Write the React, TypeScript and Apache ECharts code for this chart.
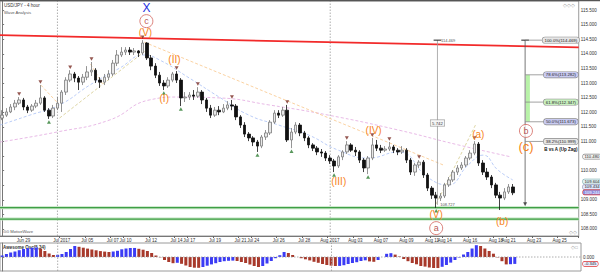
import React, { useEffect, useRef } from "react";
import * as echarts from "echarts";

const FONT = "Liberation Sans, Arial, sans-serif";

const tradingDays = ["Jun 26","Jun 27","Jun 28","Jun 29","Jun 30","Jul 03","Jul 04","Jul 05","Jul 06","Jul 07","Jul 10","Jul 11","Jul 12","Jul 13","Jul 14","Jul 17","Jul 18","Jul 19","Jul 20","Jul 21","Jul 24","Jul 25","Jul 26","Jul 27","Jul 28","Jul 31","Aug 01","Aug 02","Aug 03","Aug 04","Aug 07","Aug 08","Aug 09","Aug 10","Aug 11","Aug 14","Aug 15","Aug 16","Aug 17","Aug 18","Aug 21","Aug 22","Aug 23","Aug 24","Aug 25","Aug 28"];
const sessions = ["00:00", "08:00", "16:00"];

const tickDays = ["Jun 28","Jul 03","Jul 05","Jul 07","Jul 10","Jul 12","Jul 14","Jul 17","Jul 19","Jul 21","Jul 24","Jul 26","Jul 28","Aug 01","Aug 03","Aug 07","Aug 09","Aug 11","Aug 14","Aug 16","Aug 18","Aug 21","Aug 23","Aug 25"];
const tickTexts = ["Jun 29","Jul 2017","Jul 05","Jul 07","Jul 10","Jul 12","Jul 14","Jul 17","Jul 19","Jul 21","Jul 24","Jul 26","Jul 28","Aug 2017","Aug 03","Aug 07","Aug 09","Aug 11","Aug 14","Aug 16","Aug 18","Aug 21","Aug 23","Aug 25"];

// [open, close, low, high]
const candles = [
  [111.80,111.90,111.73,112.07],[111.90,112.01,111.84,112.14],[112.01,112.18,111.97,112.28],[112.18,112.31,112.07,112.42],
  [112.31,112.42,112.25,112.52],[112.42,112.18,112.07,112.49],[112.18,112.07,111.97,112.25],[112.07,112.21,112.01,112.28],
  [112.21,112.31,112.14,112.42],[112.31,112.49,112.25,112.93],[112.49,112.07,112.01,112.55],[112.07,111.87,111.77,112.14],
  [111.87,112.14,111.80,112.25],[112.14,112.31,112.07,112.52],[112.31,112.69,112.01,112.76],[112.69,113.10,112.59,113.20],
  [113.10,113.31,113.03,113.44],[113.31,113.17,113.03,113.38],[113.17,113.03,112.76,113.24],[113.03,113.20,112.93,113.31],
  [113.20,113.38,113.10,113.58],[113.38,113.44,113.24,113.72],[113.44,113.10,113.00,113.51],[113.10,113.03,112.83,113.20],
  [113.03,113.20,112.93,113.31],[113.20,113.31,113.10,113.44],[113.31,113.68,113.24,113.79],[113.68,113.96,113.58,114.13],
  [113.96,114.06,113.89,114.23],[114.06,114.13,113.96,114.23],[114.13,114.06,113.96,114.23],[114.06,114.10,113.96,114.20],
  [114.10,114.03,113.89,114.13],[114.03,114.37,113.96,114.469],[114.37,113.86,113.79,114.40],[113.86,113.58,113.44,113.96],
  [113.58,113.27,113.17,113.68],[113.27,113.00,112.90,113.38],[113.00,112.90,112.76,113.10],[112.90,113.10,112.83,113.20],
  [113.10,113.31,113.03,113.38],[113.31,113.10,113.00,113.41],[113.10,112.49,112.21,113.17],[112.49,112.52,112.35,112.69],
  [112.52,112.59,112.42,112.69],[112.59,112.55,112.42,112.76],[112.55,112.69,112.49,112.86],[112.69,112.42,112.28,112.76],
  [112.42,112.14,112.01,112.49],[112.14,111.90,111.80,112.25],[111.90,112.07,111.84,112.18],[112.07,112.01,111.90,112.21],
  [112.01,112.14,111.97,112.28],[112.14,112.25,112.07,112.38],[112.25,112.21,112.07,112.42],[112.21,111.84,111.73,112.28],
  [111.84,111.56,111.46,111.90],[111.56,111.25,111.15,111.66],[111.25,111.12,111.01,111.32],[111.12,110.98,110.84,111.18],
  [110.98,110.84,110.64,111.05],[110.84,111.15,110.77,111.22],[111.15,111.29,111.05,111.39],[111.29,111.66,111.22,111.73],
  [111.66,111.97,111.60,112.07],[111.97,111.90,111.80,112.07],[111.90,112.07,111.84,112.18],[112.07,111.05,110.98,112.25],
  [111.05,111.32,110.77,111.46],[111.32,111.56,111.25,111.66],[111.56,111.29,111.18,111.63],[111.29,111.12,111.01,111.36],
  [111.12,110.88,110.77,111.18],[110.88,110.77,110.67,110.94],[110.77,110.64,110.53,110.84],[110.64,110.60,110.47,110.74],
  [110.60,110.43,110.33,110.67],[110.43,110.33,110.23,110.53],[110.33,110.16,109.95,110.40],[110.16,110.47,110.09,110.53],
  [110.47,110.64,110.36,110.70],[110.64,110.88,110.57,111.01],[110.88,110.70,110.64,110.94],[110.70,110.64,110.50,110.81],
  [110.64,110.36,110.26,110.70],[110.36,110.09,109.95,110.43],[110.09,110.43,109.88,110.50],[110.43,110.88,110.36,111.12],
  [110.88,110.77,110.67,111.05],[110.77,110.70,110.60,110.88],[110.70,110.74,110.64,110.84],[110.74,110.81,110.67,110.98],
  [110.81,110.70,110.60,110.88],[110.70,110.64,110.53,110.77],[110.64,110.70,110.57,110.84],[110.70,110.36,110.26,110.77],
  [110.36,109.95,109.85,110.43],[109.95,110.19,109.82,110.26],[110.19,110.29,110.09,110.36],[110.29,109.85,109.75,110.36],
  [109.85,109.40,109.30,109.92],[109.40,109.16,109.03,109.47],[109.16,109.06,108.727,109.27],[109.06,109.13,108.96,109.23],
  [109.13,109.51,109.06,109.58],[109.51,109.68,109.44,109.78],[109.68,109.95,109.61,110.02],[109.95,110.09,109.85,110.19],
  [110.09,110.19,110.02,110.29],[110.19,110.43,110.12,110.50],[110.43,110.60,110.36,110.70],[110.60,110.91,110.53,111.01],
  [110.91,110.26,110.16,110.98],[110.26,109.95,109.85,110.36],[109.95,109.78,109.68,110.09],[109.78,109.51,109.40,109.85],
  [109.51,109.16,109.06,109.58],[109.16,109.06,108.65,109.27],[109.06,109.27,108.99,109.40],[109.27,109.44,109.20,109.54],
  [109.44,109.24,109.16,109.54]
];

const aoValues = [
  0.075,0.15,0.225,0.275,0.34,0.40,0.44,0.465,0.475,0.415,
  0.30,0.175,0.10,0.11,0.15,0.25,0.40,0.55,0.51,0.465,
  0.42,0.375,0.335,0.295,0.27,0.25,0.275,0.31,0.385,0.425,
  0.45,0.452,0.41,0.365,0.30,0.20,0.075,-0.015,-0.15,-0.25,
  -0.31,-0.29,-0.34,-0.425,-0.50,-0.535,-0.54,-0.50,-0.435,-0.37,
  -0.31,-0.25,-0.21,-0.19,-0.18,-0.20,-0.25,-0.30,-0.375,-0.45,
  -0.50,-0.45,-0.325,-0.20,-0.06,0.09,0.25,0.20,0.10,0.0,
  -0.06,-0.115,-0.17,-0.24,-0.29,-0.35,-0.40,-0.43,-0.45,-0.445,
  -0.41,-0.35,-0.30,-0.26,-0.20,-0.165,-0.22,-0.24,-0.15,0.0,
  0.16,0.19,0.12,0.025,-0.10,-0.21,-0.30,-0.365,-0.45,-0.48,
  -0.525,-0.55,-0.552,-0.49,-0.40,-0.28,-0.15,-0.025,0.125,0.25,
  0.425,0.59,0.55,0.425,0.30,0.165,-0.02,-0.21,-0.37,-0.36,
  -0.345
];

const swingHighIdx = [4, 9, 16, 21, 33, 41, 46, 54, 67, 81, 87, 91, 98, 111];
const swingLowIdx = [11, 38, 42, 60, 68, 78, 86, 102];

const redTrend = [[-0.5, 114.64], [135.5, 114.22]];
const supportLevels = [108.73, 108.34];
const monthStarts = [13, 77.1];

const maFast = [[-0.5,111.56],[6.5,111.90],[13.5,112.25],[20.6,112.93],[27.6,113.51],[33.4,113.96],[37,113.79],[44,113.17],[51,112.52],[58,111.90],[65,111.56],[72,111.22],[79,110.70],[86.1,110.43],[93.1,110.64],[100.2,109.75],[104.8,109.51],[109.5,110.19],[113,110.53],[116.5,110.02],[120,109.68]];
const maSlow = [[-0.5,110.98],[12.8,111.32],[25.2,111.73],[34.6,112.42],[41.6,112.52],[51,112.49],[62.7,112.25],[76.7,111.90],[93.1,111.39],[107.2,110.88],[119.6,110.47]];
const orangeLegs = [
  [[33.4,114.40],[103.7,110.19]],
  [[9.1,112.93],[13.1,112.31]],
  [[20.8,113.65],[23.6,112.97]]
];
const khakiLegs = [
  [[13.5,111.80],[33.9,114.13]],
  [[102,108.86],[111.4,111.61]]
];

// [text, x index, price, kind]
const waveLabels: [string, number, number, string][] = [
  ["X", 33.9, 115.58, "x"],
  ["c", 33.9, 115.12, "circle"],
  ["(V)", 33.7, 114.73, "wave"],
  ["(I)", 38.1, 112.47, "wave"],
  ["(II)", 40.5, 113.79, "wave"],
  ["(III)", 79.1, 109.61, "wave"],
  ["(IV)", 87.3, 111.36, "wave"],
  ["(V)", 102.0, 108.49, "wave"],
  ["a", 102.0, 108.03, "circle"],
  ["(a)", 111.9, 111.22, "wave"],
  ["(b)", 117.5, 108.27, "wave"],
  ["b", 123.1, 111.36, "circle"],
  ["(c)", 123.1, 110.81, "big"]
];

const fibRatios = [100.0, 78.6, 61.8, 50.0, 38.2];
const fibPrices = [114.469, 113.282, 112.347, 111.673, 110.999];
const fibFills = ["#e6e6e6", "#c9cbf2", "#c8efc0", "#c9cbf2", "#e6e6e6"];
const fibX = 122.9;
const fibBottom = 108.85;
const measureX = 102.3;
const measureTop = 114.469;
const measureLow = 108.727;

// [text, price, fill, stroke, textColor]
const axisBoxes: [string, number, string, string, string][] = [
  ["110.480", 110.48, "#f4f4f4", "#888", "#222"],
  ["109.604", 109.625, "#dff0f2", "#7aa", "#222"],
  ["109.434", 109.44, "#dfe7ff", "#88a", "#222"],
  ["109.244", 109.255, "#8d8fe0", "#d33", "#fff"]
];
const coveredTicks = [110.5, 109.5];

const categories = tradingDays.flatMap((d) => sessions.map((s) => `${d} ${s}`)).slice(1, 137);

const lineSeries = (data: number[][], color: string, width: number, type: any = "solid", extra: any = {}) => ({
  type: "line",
  xAxisIndex: 1,
  yAxisIndex: 0,
  data,
  symbol: "none",
  silent: true,
  lineStyle: { color, width, type },
  z: 3,
  ...extra
});

const isTick = (value: string) => value.endsWith("00:00") && tickDays.includes(value.slice(0, 6));

const aoBlue = "#3b3bf5";
const aoRed = "#a8392b";
const waveOrange = "#f7841a";

function buildOption() {
  const series: any[] = [];

  monthStarts.forEach((m) => {
    series.push(lineSeries([[m, 107.76], [m, 115.81]], "#9a9a9a", 0.8, [1.5, 1.5]));
    series.push(lineSeries([[m, -0.7], [m, 0.7]], "#9a9a9a", 0.8, [1.5, 1.5], { xAxisIndex: 3, yAxisIndex: 1 }));
  });

  series.push(lineSeries(maSlow, "#e2a8e0", 0.8, [3, 2], { smooth: true }));
  series.push(lineSeries(maFast, "#a9c0f5", 0.8, [3, 2], { smooth: true }));
  orangeLegs.forEach((l) => series.push(lineSeries(l, "#f9cd97", 0.9, [3, 2])));
  khakiLegs.forEach((l) => series.push(lineSeries(l, "#d9d09a", 0.9, [3, 2])));

  supportLevels.forEach((p) => {
    series.push(lineSeries([[-0.5, p], [135.5, p]], "#bfe3bf", 3));
    series.push(lineSeries([[-0.5, p], [135.5, p]], "#3f9f45", 1.2));
  });
  series.push(lineSeries(redTrend, "#f22a2a", 1.8, "solid", { z: 4 }));

  series.push({
    type: "candlestick",
    xAxisIndex: 0,
    yAxisIndex: 0,
    data: candles,
    barWidth: 3,
    z: 5,
    itemStyle: { color: "#e8e8e8", color0: "#111111", borderColor: "#7a7a7a", borderColor0: "#111111", borderWidth: 0.8 }
  });

  series.push(lineSeries([[measureX, measureTop], [measureX, measureLow + 0.1]], "#9d9d9d", 0.8, "solid", { z: 6 }));
  series.push(lineSeries([[measureX - 0.9, measureTop], [measureX + 0.9, measureTop]], "#222", 1, "solid", { z: 6 }));

  series.push(lineSeries([[fibX + 0.65, fibPrices[1]], [fibX + 0.65, fibPrices[3]]], "#b8f2a8", 4, "solid", { z: 5 }));
  series.push(lineSeries([[fibX, measureTop], [fibX, fibBottom]], "#555", 0.8, "solid", { z: 6 }));
  series.push(lineSeries([[fibX - 0.9, measureTop], [fibX + 0.9, measureTop]], "#222", 1, "solid", { z: 6 }));
  fibPrices.forEach((p) => series.push(lineSeries([[fibX, p], [fibX + 4.9, p]], "#8a8a8a", 0.8, "solid", { z: 6 })));

  const txt = (extra: any) => ({ type: "scatter", xAxisIndex: 1, yAxisIndex: 0, symbol: "rect", symbolSize: 0.1, itemStyle: { color: "#ffffff", opacity: 1 }, silent: true, z: 9, ...extra });

  series.push(txt({
    data: fibRatios.map((r, k) => ({
      value: [131.3, fibPrices[k]],
      label: {
        show: true, position: "inside", formatter: `${r.toFixed(1)}%(${fibPrices[k].toFixed(3)})`,
        fontSize: 4.3, fontFamily: FONT, color: "#222", backgroundColor: fibFills[k], borderColor: "#8a8a8a",
        borderWidth: 0.6, borderRadius: 2.5, padding: [0.8, 2], textBorderWidth: 0
      }
    })).concat([
      { value: [131.3, 110.72], label: { show: true, position: "inside", formatter: "B vs A (Up Zag)", fontSize: 4.5, fontWeight: "bold", fontFamily: FONT, color: "#111", textBorderWidth: 0 } } as any,
      { value: [measureX, 111.63], label: { show: true, position: "inside", formatter: "5.742", fontSize: 4.3, fontFamily: FONT, color: "#333", backgroundColor: "#f7f7f7", borderColor: "#999", borderWidth: 0.6, padding: [0.8, 1.5], textBorderWidth: 0 } } as any,
      { value: [measureX + 0.6, 114.44], label: { show: true, position: "right", distance: 1, formatter: "114.469", fontSize: 4, fontFamily: FONT, color: "#555", textBorderWidth: 0 } } as any,
      { value: [measureX + 0.4, 108.84], label: { show: true, position: "right", distance: 1, formatter: "108.727", fontSize: 4, fontFamily: FONT, color: "#555", textBorderWidth: 0 } } as any
    ])
  }));

  series.push({ type: "scatter", xAxisIndex: 1, yAxisIndex: 0, symbol: "triangle", symbolRotate: 180, symbolSize: [4, 4], itemStyle: { color: "#333" }, data: [[fibX, fibBottom]], z: 7, silent: true });

  series.push({
    type: "scatter", xAxisIndex: 0, yAxisIndex: 0, symbol: "triangle", symbolRotate: 180, symbolSize: [4, 3.5],
    symbolOffset: [0, -3], itemStyle: { color: "#7b2d26" }, z: 7, silent: true,
    data: swingHighIdx.map((i) => [i, candles[i][3]])
  });
  series.push({
    type: "scatter", xAxisIndex: 0, yAxisIndex: 0, symbol: "triangle", symbolSize: [4, 3.5],
    symbolOffset: [0, 3], itemStyle: { color: "#2e7d32" }, z: 7, silent: true,
    data: swingLowIdx.map((i) => [i, candles[i][2]])
  });

  waveLabels.forEach(([t, x, p, kind]) => {
    if (kind === "circle") {
      series.push({
        type: "scatter", xAxisIndex: 1, yAxisIndex: 0, symbol: "circle", symbolSize: 13, z: 10, silent: true,
        itemStyle: { color: "rgba(255,255,255,0.85)", borderColor: "#d2645c", borderWidth: 1 },
        label: { show: true, position: "inside", formatter: t, fontSize: 9, fontFamily: FONT, color: "#a82a24", textBorderWidth: 0 },
        data: [[x, p]]
      });
    } else {
      const style = kind === "x" ? { fontSize: 12, color: "#1f2fe0" } : kind === "big" ? { fontSize: 13, color: waveOrange } : { fontSize: 10, color: waveOrange };
      series.push(txt({ z: 10, clip: false, label: { show: true, position: "inside", formatter: t, fontFamily: FONT, textBorderWidth: 0, opacity: 1, ...style }, data: [[x, p]] }));
    }
  });

  series.push({
    type: "bar", xAxisIndex: 2, yAxisIndex: 1, barWidth: 3, z: 3, silent: true,
    data: aoValues.map((v, i) => ({ value: v, itemStyle: { color: i === 0 || v >= aoValues[i - 1] ? aoBlue : aoRed } }))
  });
  series.push(lineSeries([[-0.5, 0], [135.5, 0]], "#9a9a9a", 0.8, [1.5, 1.5], { xAxisIndex: 3, yAxisIndex: 1, z: 4 }));

  return {
    animation: false,
    backgroundColor: "#ffffff",
    textStyle: { fontFamily: FONT },
    grid: [
      { left: 0, right: 19, top: 1, height: 235, show: true, borderColor: "#9a9a9a", borderWidth: 1 },
      { left: 0, right: 19, top: 243, height: 28, show: true, borderColor: "#9a9a9a", borderWidth: 1 }
    ],
    xAxis: [
      {
        type: "category", gridIndex: 0, data: categories, boundaryGap: true,
        axisLine: { lineStyle: { color: "#777", width: 1 } },
        axisTick: { show: true, length: 2, interval: (_i: number, v: string) => isTick(v), lineStyle: { color: "#666" } },
        axisLabel: {
          interval: (_i: number, v: string) => isTick(v), margin: 2, fontSize: 4.5, color: "#333", fontFamily: FONT,
          formatter: (v: string) => tickTexts[tickDays.indexOf(v.slice(0, 6))] ?? ""
        },
        splitLine: { show: false }
      },
      { type: "value", gridIndex: 0, min: -0.5, max: 135.5, show: false },
      { type: "category", gridIndex: 1, data: categories, boundaryGap: true, show: false },
      { type: "value", gridIndex: 1, min: -0.5, max: 135.5, show: false }
    ],
    yAxis: [
      {
        type: "value", gridIndex: 0, position: "right", min: 107.76, max: 115.81, splitNumber: 16,
        axisLine: { show: true, lineStyle: { color: "#777" } },
        axisTick: { show: true, length: 2, lineStyle: { color: "#777" } },
        axisLabel: {
          fontSize: 4.5, color: "#333", margin: 2, fontFamily: FONT, showMinLabel: false, showMaxLabel: false,
          formatter: (v: number) => (coveredTicks.some((c) => Math.abs(c - v) < 1e-6) ? "" : v.toFixed(3))
        },
        splitLine: { show: false }
      },
      {
        type: "value", gridIndex: 1, position: "right", min: -0.7, max: 0.7, interval: 0.7,
        axisLine: { show: true, lineStyle: { color: "#777" } },
        axisTick: { show: true, length: 2, lineStyle: { color: "#777" } },
        axisLabel: { fontSize: 4.5, color: "#333", margin: 2, fontFamily: FONT, showMinLabel: false, showMaxLabel: false, formatter: (v: number) => v.toFixed(3) },
        splitLine: { show: false }
      }
    ],
    series
  };
}

const staticGraphics: any[] = [
  { type: "rect", shape: { x: 0, y: 0, width: 600, height: 1.2 }, style: { fill: "#555" }, z: 100 },
  { type: "text", x: 4, y: 3, style: { text: "USD/JPY - 4 hour", fontSize: 4.5, fill: "#333", fontFamily: FONT } },
  { type: "text", x: 4, y: 10, style: { text: "Wave Analysis", fontSize: 4.2, fill: "#555", fontFamily: FONT } },
  { type: "text", x: 3, y: 229.5, style: { text: "⊙⊙ MotiveWave", fontSize: 4.2, fill: "#555", fontFamily: FONT } },
  { type: "text", x: 3, y: 245, style: { text: "Awesome Osc(5,34)", fontSize: 4.5, fill: "#333", fontWeight: "bold", fontFamily: FONT } },
  { type: "text", x: 563, y: 2.5, style: { text: "◇◇◇", fontSize: 4.5, fill: "#999", fontFamily: FONT } },
  { type: "text", x: 569, y: 229.5, style: { text: "◇◇", fontSize: 4.5, fill: "#999", fontFamily: FONT } },
  { type: "text", x: 571, y: 244.5, style: { text: "◇□", fontSize: 4.5, fill: "#999", fontFamily: FONT } }
];

export default function App() {
  const ref = useRef<HTMLDivElement>(null);
  useEffect(() => {
    if (!ref.current) return;
    const chart = echarts.init(ref.current, undefined, { renderer: "svg" });
    chart.setOption(buildOption() as any);
    const boxes: any[] = axisBoxes.map(([t, p, fill, stroke, color]) => {
      const y = chart.convertToPixel({ yAxisIndex: 0 }, p) as unknown as number;
      return {
        type: "text", x: 583, y, z: 50,
        style: { text: t, fontSize: 4.2, fill: color, backgroundColor: fill, borderColor: stroke, borderWidth: 0.6, borderRadius: 1.5, padding: [0.2, 1.5], verticalAlign: "middle", fontFamily: FONT }
      };
    });
    const aoLast = aoValues[aoValues.length - 1];
    const aoY = chart.convertToPixel({ yAxisIndex: 1 }, aoLast) as unknown as number;
    boxes.push({
      type: "text", x: 583, y: aoY, z: 50,
      style: { text: aoLast.toFixed(3), fontSize: 4.2, fill: "#222", backgroundColor: "#eef", borderColor: "#d33", borderWidth: 0.6, borderRadius: 1.5, padding: [0.2, 1.5], verticalAlign: "middle", fontFamily: FONT }
    });
    chart.setOption({ graphic: [...staticGraphics, ...boxes] });
    return () => chart.dispose();
  }, []);
  return <div ref={ref} style={{ position: "absolute", left: 0, top: 0, width: 600, height: 272, background: "#fff" }} />;
}
